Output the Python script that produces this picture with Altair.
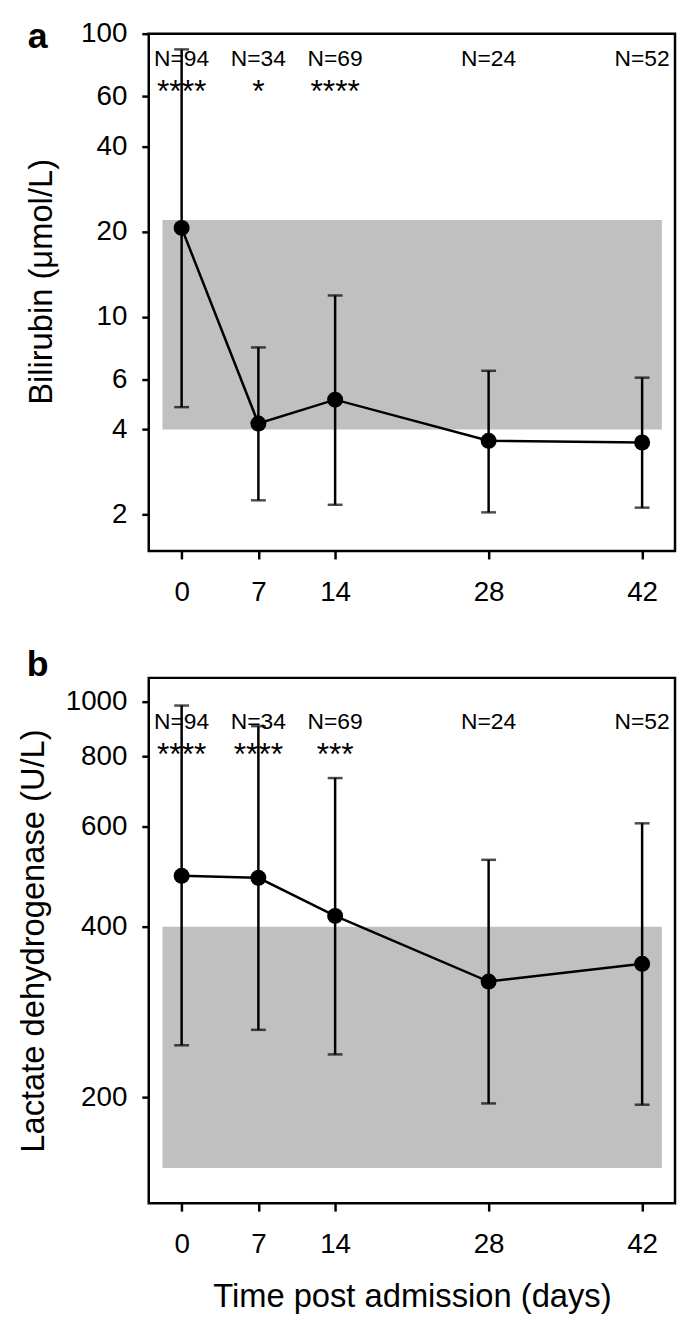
import altair as alt
import pandas as pd

# ---- data ----
days = [0, 7, 14, 28, 42]
n_labels = ["N=94", "N=34", "N=69", "N=24", "N=52"]

bili_mean = [20.6, 4.2, 5.1, 3.65, 3.6]
bili_low = [4.8, 2.25, 2.17, 2.04, 2.12]
bili_high = [88, 7.8, 11.9, 6.45, 6.1]
bili_stars = ["****", "*", "****", "", ""]
bili_ref = [4, 22]
bili_ticks = [2, 4, 6, 10, 20, 40, 60, 100]

ldh_mean = [492, 488, 418, 320, 344]
ldh_low = [247, 263, 238, 195, 194]
ldh_high = [983, 904, 732, 525, 609]
ldh_stars = ["****", "****", "***", "", ""]
ldh_ref = [150, 400]
ldh_ticks = [200, 400, 600, 800, 1000]

FONT = "Liberation Sans"
W = 531
X_DOMAIN = [-3, 45]
BAND_X = [-1.75, 43.8]


def panel(mean, low, high, stars, ref, ydomain, yticks, ytitle, n_y, star_y,
          letter, letter_y, show_x_title, title_pad, h, title_y):
    df = pd.DataFrame({"day": days, "mean": mean, "low": low, "high": high,
                       "n": n_labels, "stars": stars})
    xscale = alt.Scale(domain=X_DOMAIN, nice=False, zero=False)
    yscale = alt.Scale(type="log", domain=ydomain, nice=False)
    xaxis = alt.Axis(values=days, title="Time post admission (days)" if show_x_title else "",
                     grid=False, domain=False, tickSize=8, tickWidth=2.5, tickColor="black",
                     labelFont=FONT, labelFontSize=28, labelColor="black", labelPadding=20,
                     titleFont=FONT, titleFontSize=33, titleFontWeight="normal",
                     titleColor="black", titlePadding=22, labelFlush=False)
    yaxis = alt.Axis(values=yticks, format="d", title=ytitle, grid=False, domain=False,
                     tickSize=7, tickWidth=2.5, tickColor="black",
                     labelFont=FONT, labelFontSize=28, labelColor="black", labelPadding=15,
                     titleFont=FONT, titleFontSize=33, titleFontWeight="normal",
                     titleColor="black", titlePadding=title_pad, titleY=title_y)
    X = lambda f: alt.X(f, type="quantitative", scale=xscale, axis=xaxis)
    Y = lambda f: alt.Y(f, type="quantitative", scale=yscale, axis=yaxis)

    band_df = pd.DataFrame({"x1": [BAND_X[0]], "x2": [BAND_X[1]],
                            "y1": [ref[0]], "y2": [ref[1]]})
    band = alt.Chart(band_df).mark_rect(color="#c0c0c0").encode(
        x=X("x1"), x2="x2", y=Y("y1"), y2="y2")

    base = alt.Chart(df)
    ntext = base.mark_text(font=FONT, fontSize=23, color="black", baseline="alphabetic").encode(
        x=X("day"), y=alt.datum(n_y), text="n:N")
    stext = base.mark_text(font=FONT, fontSize=32, color="black", baseline="alphabetic").encode(
        x=X("day"), y=alt.datum(star_y), text="stars:N")
    rules = base.mark_rule(color="black", strokeWidth=2.5).encode(
        x=X("day"), y=Y("low"), y2="high")
    cap_lo = base.mark_tick(color="black", orient="horizontal", size=15, thickness=2.5).encode(
        x=X("day"), y=Y("low"))
    cap_hi = base.mark_tick(color="black", orient="horizontal", size=15, thickness=2.5).encode(
        x=X("day"), y=Y("high"))
    line = base.mark_line(color="black", strokeWidth=2.5).encode(x=X("day"), y=Y("mean"))
    pts = base.mark_circle(color="black", size=260, opacity=1).encode(x=X("day"), y=Y("mean"))

    lab = alt.Chart(pd.DataFrame({"t": [letter]})).mark_text(
        font=FONT, fontSize=36, fontWeight="bold", color="black",
        align="center", baseline="alphabetic").encode(
        text="t:N", x=alt.value(-112), y=alt.value(letter_y))

    return alt.layer(band, ntext, stext, rules, cap_lo, cap_hi, line, pts, lab).properties(
        width=W, height=h)


pa = panel(bili_mean, bili_low, bili_high, bili_stars, bili_ref, [1.49, 100], bili_ticks,
           "Bilirubin (μmol/L)", 76.7, 57.2, "a", 14, False, 22, 522, 250)
pb = panel(ldh_mean, ldh_low, ldh_high, ldh_stars, ldh_ref, [130, 1100], ldh_ticks,
           "Lactate dehydrogenase (U/L)", 892, 771, "b", -2, True, 15, 530, 265)

chart = alt.vconcat(pa, pb, spacing=37).properties(
    padding={"left": 8, "top": 3, "right": 0, "bottom": 0}
).configure_view(stroke="black", strokeWidth=2.5)

chart.save("out.html", embed_options={"renderer": "svg", "actions": False})
